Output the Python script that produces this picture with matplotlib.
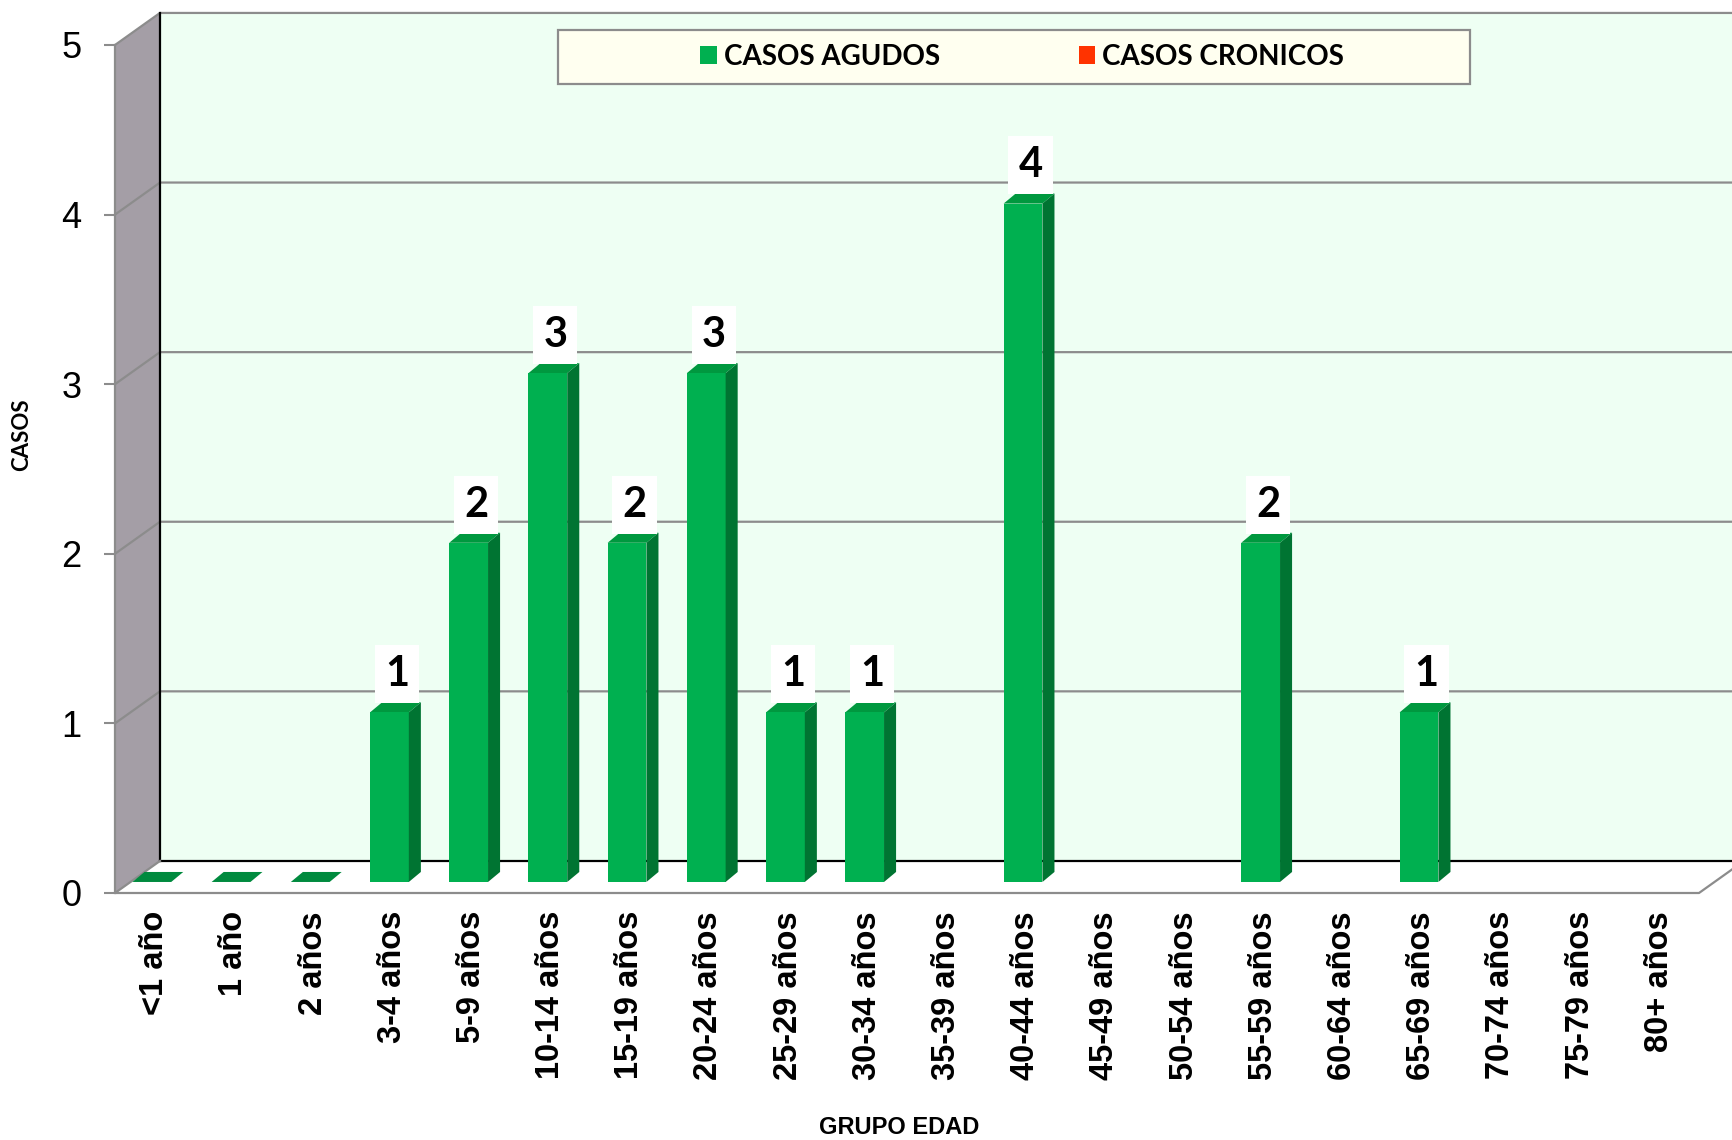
import numpy as np
import matplotlib.pyplot as plt
from matplotlib.patches import Polygon, Rectangle, Patch

# data (nan = empty cell, nothing drawn)
categories = ['<1 año', '1 año', '2 años', '3-4 años', '5-9 años', '10-14 años',
              '15-19 años', '20-24 años', '25-29 años', '30-34 años', '35-39 años',
              '40-44 años', '45-49 años', '50-54 años', '55-59 años', '60-64 años',
              '65-69 años', '70-74 años', '75-79 años', '80+ años']
agudos = [0, 0, 0, 1, 2, 3, 2, 3, 1, 1, np.nan, 4, np.nan, np.nan, 2, np.nan, 1,
          np.nan, np.nan, np.nan]
cronicos = [np.nan] * len(categories)
y_ticks = [0, 1, 2, 3, 4, 5]

GREEN = '#00B050'
GREEN_TOP = '#00983F'
GREEN_SIDE = '#007432'
RED = '#FF3300'
GRID = '#8C8C8C'
WALL = '#EEFFF3'
SIDE_WALL = '#A49EA6'

W, H = 1733, 1140
fig = plt.figure(figsize=(W / 100, H / 100), dpi=100)
ax = fig.add_axes([115 / W, 1 - 893 / H, 1584 / W, 848 / H])
n = len(categories)
x0, x1 = -0.5, n - 0.5
top = max(y_ticks)
ax.set_xlim(x0, x1)
ax.set_ylim(0, top)
ax.patch.set_visible(False)
for s in ax.spines.values():
    s.set_visible(False)

# oblique depth of the chart box, in data units
DX, DY = 0.568, 0.189

# back wall
ax.add_patch(Rectangle((x0 + DX, DY), x1 - x0 + 1, top, fc=WALL, ec='none',
                       clip_on=False, zorder=0))
# side wall
ax.add_patch(Polygon([(x0, 0), (x0 + DX, DY), (x0 + DX, top + DY), (x0, top)],
                     closed=True, fc=SIDE_WALL, ec='none', clip_on=False, zorder=1))
# floor
ax.add_patch(Polygon([(x0, 0), (x1, 0), (x1 + DX, DY), (x0 + DX, DY)],
                     closed=True, fc='white', ec='none', clip_on=False, zorder=1))

# gridlines over side wall and back wall
for k in y_ticks[1:]:
    ax.plot([x0, x0 + DX, x1 + DX + 1], [k, k + DY, k + DY], color=GRID, lw=1.6,
            clip_on=False, zorder=2)
ax.plot([x0 + DX, x1 + DX + 1], [DY, DY], color='black', lw=1.6, clip_on=False, zorder=2)
ax.plot([x0 + DX, x0 + DX], [DY, top + DY], color='black', lw=1.6, clip_on=False, zorder=2)
ax.plot([x0, x0], [0, top], color=GRID, lw=1.6, clip_on=False, zorder=2)
ax.plot([x0 + DX, x0, x1, x1 + DX], [DY, 0, 0, DY], color=GRID, lw=1.6,
        clip_on=False, zorder=2)

# bars
BAR_OFF, BW = -0.28, 0.49
BASE = 0.065
bdx, bdy = 0.152, 0.059
for i, v in enumerate(agudos):
    if np.isnan(v):
        continue
    bx = i + BAR_OFF
    yb, yt = BASE, BASE + v
    ax.add_patch(Polygon([(bx, yt), (bx + BW, yt), (bx + BW + bdx, yt + bdy), (bx + bdx, yt + bdy)],
                         closed=True, fc=GREEN_TOP if v > 0 else '#008A3E', ec='none',
                         clip_on=False, zorder=3))
    if v > 0:
        ax.add_patch(Rectangle((bx, yb), BW, v, fc=GREEN, ec='none', clip_on=False, zorder=3))
        ax.add_patch(Polygon([(bx + BW, yb), (bx + BW + bdx, yb + bdy),
                              (bx + BW + bdx, yt + bdy), (bx + BW, yt)],
                             closed=True, fc=GREEN_SIDE, ec='none', clip_on=False, zorder=3))
        ax.text(bx + BW / 2 + 0.095, v + 0.29, str(int(v)), ha='center', va='center',
                fontsize=30, fontweight='bold', family='Lato', zorder=5,
                bbox=dict(boxstyle='square,pad=0.24', fc='white', ec='none'))

# axes ticks
ax.set_xticks(range(n))
ax.set_xticklabels(categories, rotation=90, fontsize=23.5, fontweight='bold',
                   family='Liberation Sans')
ax.tick_params(axis='x', length=0, pad=13)
ax.set_yticks(y_ticks)
ax.set_yticklabels([str(t) for t in y_ticks], fontsize=26, family='Liberation Sans')
ax.tick_params(axis='y', length=8, width=1.5, color=GRID, pad=16)

fig.text(22 / W, 1 - 435 / H, 'CASOS', rotation=90, ha='center', va='center',
         fontsize=16, fontweight='bold', family='Lato')
fig.text(899 / W, 1 - 1128 / H, 'GRUPO EDAD', ha='center', va='center',
         fontsize=17, fontweight='bold', family='Liberation Sans')

# legend
fig.patches.append(Rectangle((558 / W, 1 - 84 / H), 912 / W, 54 / H, transform=fig.transFigure,
                             fc='#FFFFF0', ec='#8C8C8C', lw=1.6, zorder=4))
handles = [Patch(fc=GREEN, ec='none', label='CASOS AGUDOS'),
           Patch(fc=RED, ec='none', label='CASOS CRONICOS')]
leg = fig.legend(handles=handles, loc='center', bbox_to_anchor=(1022 / W, 1 - 57 / H),
                 ncol=2, frameon=False, prop={'family': 'Lato', 'weight': 'bold', 'size': 20},
                 handlelength=0.6, handleheight=0.6, handletextpad=0.25, columnspacing=5.0)
leg.set_zorder(6)

fig.savefig('out.png', dpi=100)
